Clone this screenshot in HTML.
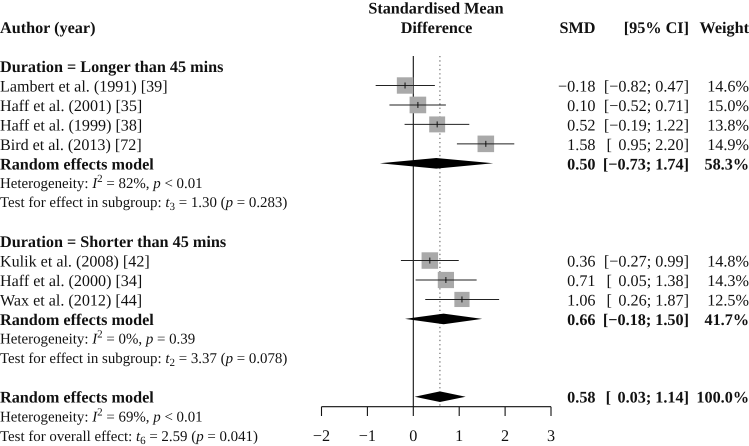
<!DOCTYPE html>
<html>
<head>
<meta charset="utf-8">
<style>
html,body{margin:0;padding:0;background:#fff;width:749px;height:446px;overflow:hidden}
svg{display:block;font-family:"Liberation Serif",serif;font-size:16.2px;fill:#111;text-rendering:geometricPrecision}
.b{font-weight:bold}
.i{font-style:italic}
</style>
</head>
<body>
<svg id="forest" width="749" height="446" viewBox="0 0 749 446" xmlns="http://www.w3.org/2000/svg">
  <text class="b" x="436" y="13.5" text-anchor="middle">Standardised Mean</text>
  <text class="b" x="436.5" y="33" text-anchor="middle">Difference</text>
  <text class="b" x="0" y="33">Author (year)</text>
  <text class="b" x="595.5" y="33" text-anchor="end">SMD</text>
  <text class="b" x="689" y="33" text-anchor="end">[95% CI]</text>
  <text class="b" x="749" y="33" text-anchor="end">Weight</text>

  <text class="b" x="0" y="72">Duration = Longer than 45 mins</text>
  <text class="b" x="0" y="169.5">Random effects model</text>
  <text x="0" y="188" font-size="14.9">Heterogeneity: <tspan class="i">I</tspan><tspan dy="-6" font-size="11">2</tspan><tspan dy="6"> = 82%, </tspan><tspan class="i">p</tspan> &lt; 0.01</text>
  <text x="0" y="207" font-size="14.9">Test for effect in subgroup: <tspan class="i">t</tspan><tspan dy="3" font-size="11">3</tspan><tspan dy="-3"> = 1.30 (</tspan><tspan class="i">p</tspan> = 0.283)</text>

  <text class="b" x="0" y="247">Duration = Shorter than 45 mins</text>
  <text class="b" x="0" y="325">Random effects model</text>
  <text x="0" y="343.5" font-size="14.9">Heterogeneity: <tspan class="i">I</tspan><tspan dy="-6" font-size="11">2</tspan><tspan dy="6"> = 0%, </tspan><tspan class="i">p</tspan> = 0.39</text>
  <text x="0" y="363" font-size="14.9">Test for effect in subgroup: <tspan class="i">t</tspan><tspan dy="3" font-size="11">2</tspan><tspan dy="-3"> = 3.37 (</tspan><tspan class="i">p</tspan> = 0.078)</text>

  <text class="b" x="0" y="402.5">Random effects model</text>
  <text x="0" y="421.5" font-size="14.9">Heterogeneity: <tspan class="i">I</tspan><tspan dy="-6" font-size="11">2</tspan><tspan dy="6"> = 69%, </tspan><tspan class="i">p</tspan> &lt; 0.01</text>
  <text x="0" y="441" font-size="14.9">Test for overall effect: <tspan class="i">t</tspan><tspan dy="3" font-size="11">6</tspan><tspan dy="-3"> = 2.59 (</tspan><tspan class="i">p</tspan> = 0.041)</text>
</svg>
<script>
var studyLabels = ["Lambert et al. (1991) [39]", "Haff et al. (2001) [35]", "Haff et al. (1999) [38]", "Bird et al. (2013) [72]", "Kulik et al. (2008) [42]", "Haff et al. (2000) [34]", "Wax et al. (2012) [44]"];
var studyRows = [0, 1, 2, 3, 9, 10, 11];
var studySmd = [-0.18, 0.10, 0.52, 1.58, 0.36, 0.71, 1.06];
var studyLower = [-0.82, -0.52, -0.19, 0.95, -0.27, 0.05, 0.26];
var studyUpper = [0.47, 0.71, 1.22, 2.20, 0.99, 1.38, 1.87];
var studyWeight = [14.6, 15.0, 13.8, 14.9, 14.8, 14.3, 12.5];

var modelNames = ["longer", "shorter", "overall"];
var modelRows = [4, 12, 16];
var modelSmd = [0.50, 0.66, 0.58];
var modelLower = [-0.73, -0.18, 0.03];
var modelUpper = [1.74, 1.50, 1.14];
var modelWeight = [58.3, 41.7, 100.0];

var axisTicks = [-2, -1, 0, 1, 2, 3];
var overallEffect = 0.58;

var svg = document.getElementById('forest');
var NS = 'http://www.w3.org/2000/svg';
function xScale(v) { return 413.3 + v * 45.9; }
function yScale(r) { return 85.5 + r * 19.45; }
function fmt(v) { return (v < 0 ? '\u2212' : '') + Math.abs(v).toFixed(2); }
function fmtCi(l, u) {
  return '[' + (l < 0 ? '' : '\u2009\u2009') + fmt(l) + '; ' + fmt(u) + ']';
}
function make(tag, attrs, parent) {
  var el = document.createElementNS(NS, tag);
  for (var k in attrs) el.setAttribute(k, attrs[k]);
  (parent || svg).appendChild(el);
  return el;
}

var zeroLine = make('line', {x1: xScale(0), x2: xScale(0), y1: 56, y2: 407, stroke: '#111', 'stroke-width': 1.1});



var effectLine = make('line', {x1: xScale(overallEffect), x2: xScale(overallEffect), y1: 56, y2: 407, stroke: '#555', 'stroke-width': 1, 'stroke-dasharray': '1.3 3'});



studyLabels.forEach(function (label, i) {
  var cy = yScale(studyRows[i]);
  var base = cy + 6;
  var name = make('text', {x: 0, y: base, 'font-size': 16.1});
  name.textContent = label;
  
  

  var size = 16.4 * Math.sqrt(studyWeight[i] / 14.6);
  var box = make('rect', {x: xScale(studySmd[i]) - size / 2, y: cy - size / 2, width: size, height: size, fill: '#a9a9a9'});
  
  

  var ci = make('line', {x1: xScale(studyLower[i]), x2: xScale(studyUpper[i]), y1: cy, y2: cy, stroke: '#222', 'stroke-width': 1});
  
  

  var mid = make('line', {x1: xScale(studySmd[i]), x2: xScale(studySmd[i]), y1: cy - 3, y2: cy + 3, stroke: '#111', 'stroke-width': 1});
  
  

  var smd = make('text', {x: 595.5, y: base, 'text-anchor': 'end'});
  smd.textContent = fmt(studySmd[i]);
  
  

  var ciText = make('text', {x: 689, y: base, 'text-anchor': 'end'});
  ciText.textContent = fmtCi(studyLower[i], studyUpper[i]);
  
  

  var w = make('text', {x: 749, y: base, 'text-anchor': 'end'});
  w.textContent = studyWeight[i].toFixed(1) + '%';
  
  
});

modelNames.forEach(function (m, i) {
  var cy = yScale(modelRows[i]);
  var base = cy + 6;
  var pts = [
    [xScale(modelLower[i]), cy],
    [xScale(modelSmd[i]), cy - 5.3],
    [xScale(modelUpper[i]), cy],
    [xScale(modelSmd[i]), cy + 5.3]
  ].map(function (p) { return p.join(','); }).join(' ');
  var d = make('polygon', {points: pts, fill: '#000'});
  
  

  var smd = make('text', {x: 595.5, y: base, 'text-anchor': 'end', 'class': 'b'});
  smd.textContent = fmt(modelSmd[i]);
  
  

  var ciText = make('text', {x: 689, y: base, 'text-anchor': 'end', 'class': 'b'});
  ciText.textContent = fmtCi(modelLower[i], modelUpper[i]);
  
  

  var w = make('text', {x: 749, y: base, 'text-anchor': 'end', 'class': 'b'});
  w.textContent = modelWeight[i].toFixed(1) + '%';
  
  
});

var axisLine = make('line', {x1: xScale(axisTicks[0]), x2: xScale(axisTicks[axisTicks.length - 1]), y1: 406.7, y2: 406.7, stroke: '#111', 'stroke-width': 1.1});



axisTicks.forEach(function (t) {
  var mark = make('line', {x1: xScale(t), x2: xScale(t), y1: 406.7, y2: 416, stroke: '#111', 'stroke-width': 1.1});
  
  

  var lab = make('text', {x: xScale(t), y: 441, 'text-anchor': 'middle'});
  lab.textContent = t < 0 ? '\u2212' + Math.abs(t) : String(t);
  
  
});
</script>
</body>
</html>
